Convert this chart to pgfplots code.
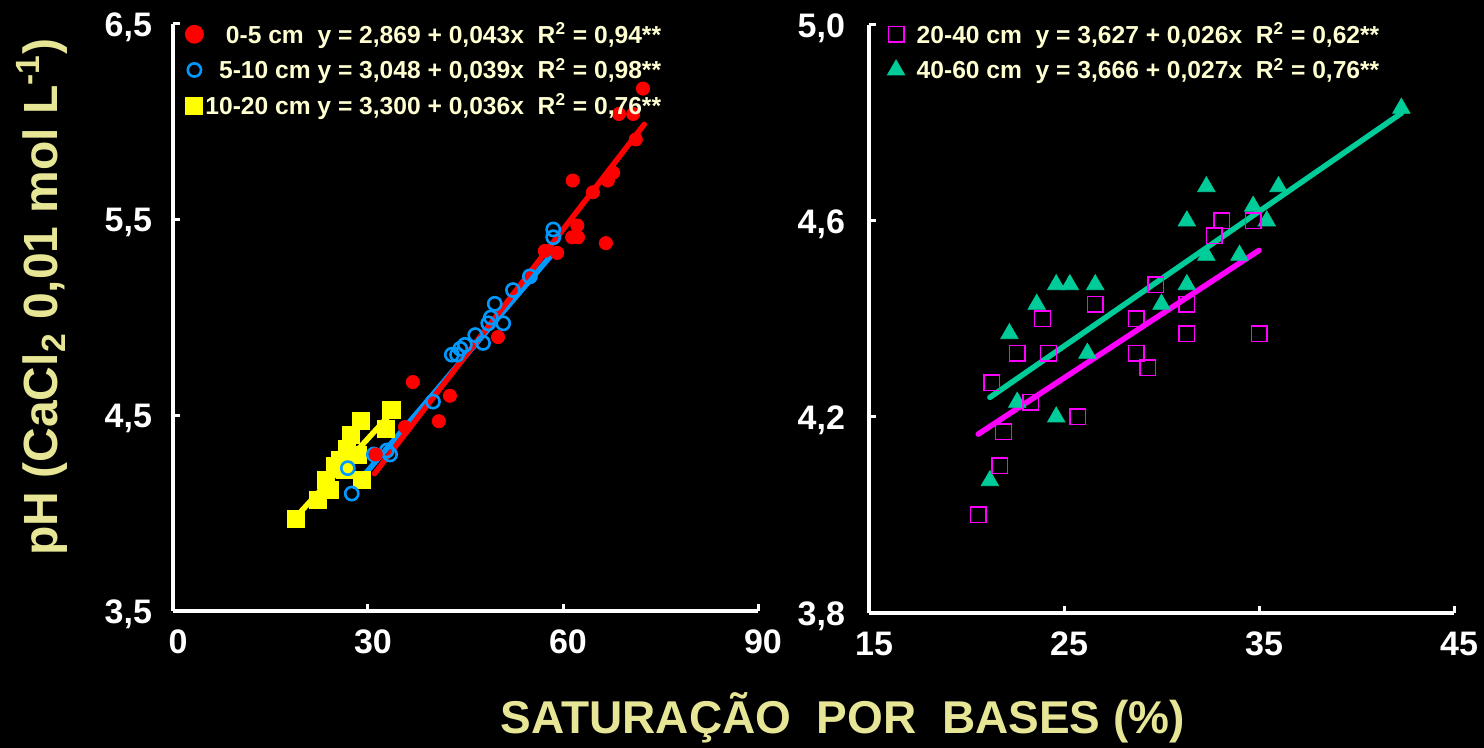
\documentclass[border=0pt]{standalone}
\usepackage{pgfplots}
\pgfplotsset{compat=1.18}
\usepackage{fontspec}
\setmainfont{Liberation Sans}
\definecolor{labcol}{RGB}{230,230,150}
\definecolor{legcol}{RGB}{255,255,210}
\definecolor{myblue}{RGB}{0,153,255}
\definecolor{myteal}{RGB}{0,204,153}
\definecolor{mymag}{RGB}{255,0,255}
\definecolor{myyel}{RGB}{255,255,0}
\pgfplotsset{
  myax/.style={
    scale only axis, clip=false,
    axis x line=bottom, axis y line=left,
    axis line style={-, white, line width=1.75pt},
    every tick/.style={white, line width=1.5pt},
    tick align=inside, major tick length=3.5pt,
    ticklabel style={white, font=\fontsize{17}{19}\selectfont\bfseries},
    xticklabel style={yshift=-6pt, xshift=2.5pt},
    legend style={draw=none, fill=none, text=legcol,
      font=\fontsize{12.3}{14}\selectfont\bfseries,
      inner sep=0pt, row sep=4pt,
      nodes={inner sep=1pt}},
    legend cell align=right,
    reverse legend,
    legend image code/.code={\draw[mark repeat=2,mark phase=2,##1] plot coordinates {(-4pt,0pt)(0pt,0pt)(4pt,0pt)};},
  }
}
\begin{document}
\begin{tikzpicture}
\path[use as bounding box, fill=black] (0,0) rectangle (742pt,374pt);
% left panel
\begin{axis}[myax, at={(86.5pt,68.5pt)}, anchor=south west,
  width=292.5pt, height=293.5pt,
  xmin=0, xmax=90, ymin=3.5, ymax=6.5,
  xtick={0,30,60,90}, xticklabels={0,30,60,90},
  ytick={3.5,4.5,5.5,6.5}, yticklabels={{3,5},{4,5},{5,5},{6,5}},
  yticklabel style={xshift=-7pt, yshift=-1.5pt},
  legend style={at={(axis description cs:0,1)}, anchor=north west, xshift=6pt, yshift=2pt}]
% 10-20 cm
\addplot[only marks, mark=square*, mark size=4.25pt, color=myyel] coordinates {
(18.9,3.97)(22.3,4.07)(23.6,4.17)(24.2,4.12)(24.9,4.24)(25.7,4.27)(26.5,4.22)(26.8,4.33)
(27.3,4.40)(28.4,4.30)(28.9,4.47)(29.0,4.17)(32.8,4.43)(33.6,4.53)};
\addlegendentry{10-20 cm y = 3,300 + 0,036x\ \ R\textsuperscript{2} = 0,76**}
\addplot[forget plot, myyel, line width=2.75pt, line cap=round] coordinates {(18.9,3.98)(33.0,4.49)};
% 5-10 cm
\addplot[only marks, mark=o, mark size=3.3pt, line width=1.3pt, color=myblue] coordinates {
(58.5,5.45)(58.5,5.41)(54.9,5.21)(52.3,5.14)(49.5,5.07)(50.8,4.97)(48.9,5.00)(48.5,4.97)
(46.5,4.91)(47.7,4.87)(44.9,4.86)(44.2,4.84)(42.9,4.81)(43.7,4.81)(40.0,4.57)
(30.9,4.30)(32.9,4.32)(33.4,4.30)(26.9,4.23)(27.5,4.10)};
\addlegendentry{5-10 cm y = 3,048 + 0,039x\ \ R\textsuperscript{2} = 0,98**}
\addplot[forget plot, myblue, line width=2.75pt, line cap=round] coordinates {(29.7,4.206)(58.5,5.33)};
% 0-5 cm
\addplot[only marks, mark=*, mark size=3.3pt, color=red, legend image post style={mark size=4.5pt}] coordinates {
(72.3,6.17)(68.6,6.04)(70.8,6.04)(71.2,5.91)(67.7,5.74)(66.9,5.70)(61.5,5.70)(64.6,5.64)
(62.2,5.47)(61.4,5.41)(62.3,5.41)(66.6,5.38)(57.2,5.34)(59.1,5.33)(50.0,4.90)
(36.9,4.67)(42.6,4.60)(40.9,4.47)(35.7,4.44)(31.2,4.30)};
\addlegendentry{0-5 cm\ \ y = 2,869 + 0,043x\ \ R\textsuperscript{2} = 0,94**}
\addplot[forget plot, red, line width=2.75pt, line cap=round] coordinates {(31,4.202)(72.5,5.987)};
\end{axis}
% right panel
\begin{axis}[myax, at={(434.5pt,67.5pt)}, anchor=south west,
  width=292.5pt, height=294pt,
  xmin=15, xmax=45, ymin=3.8, ymax=5.0,
  xtick={15,25,35,45}, xticklabels={15,25,35,45},
  ytick={3.8,4.2,4.6,5.0}, yticklabels={{3,8},{4,2},{4,6},{5,0}},
  yticklabel style={xshift=-8.5pt, yshift=-1.5pt},
  legend style={at={(axis description cs:0,1)}, anchor=north west, xshift=9pt, yshift=2.5pt,
    /tikz/every odd column/.append style={column sep=5pt}}]
% 40-60 cm
\addplot[only marks, mark=triangle*, mark size=5pt, color=myteal] coordinates {
(21.2,4.07)(22.6,4.23)(24.6,4.20)(26.2,4.33)(22.2,4.37)(23.6,4.43)(24.6,4.47)(25.3,4.47)
(26.6,4.47)(30.0,4.43)(31.3,4.47)(42.3,4.83)(36.0,4.67)(32.3,4.67)(34.7,4.63)(31.3,4.60)
(35.4,4.60)(32.3,4.53)(34.0,4.53)};
\addlegendentry{40-60 cm\ \ y = 3,666 + 0,027x\ \ R\textsuperscript{2} = 0,76**}
\addplot[forget plot, myteal, line width=2.75pt, line cap=round] coordinates {(21.2,4.24)(42.3,4.82)};
% 20-40 cm
\addplot[only marks, mark=square, mark size=3.9pt, line width=0.7pt, color=mymag] coordinates {
(20.6,4.00)(21.7,4.10)(21.9,4.17)(23.3,4.23)(21.3,4.27)(22.6,4.33)(24.2,4.33)(23.9,4.40)
(26.6,4.43)(25.7,4.20)(28.7,4.40)(28.7,4.33)(29.3,4.30)(29.7,4.47)(31.3,4.43)(31.3,4.37)
(35.0,4.37)(33.1,4.60)(32.7,4.57)(34.7,4.60)};
\addlegendentry{20-40 cm\ \ y = 3,627 + 0,026x\ \ R\textsuperscript{2} = 0,62**}
\addplot[forget plot, mymag, line width=2.75pt, line cap=round] coordinates {(20.6,4.165)(35.0,4.54)};
\end{axis}
\node[text=labcol, font=\fontsize{23}{26}\selectfont\bfseries] at (421.5pt,15pt) {SATURAÇÃO\ \ POR\ \ BASES (\%)};
\node[text=labcol, font=\fontsize{24}{27}\selectfont\bfseries, rotate=90] at (21pt,225.5pt) {pH (CaCl\textsubscript{2} 0,01 mol L\textsuperscript{-1})};
\end{tikzpicture}
\end{document}
